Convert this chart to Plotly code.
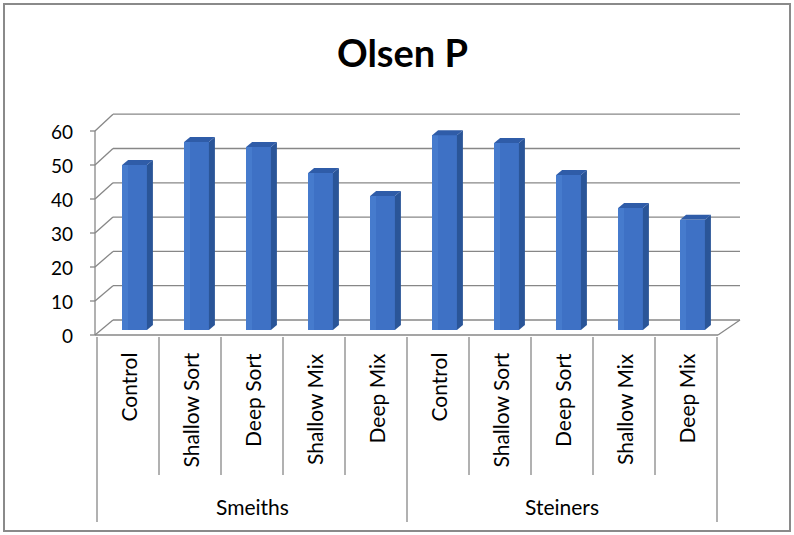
import plotly.graph_objects as go

# Olsen P by treatment for two farms
groups = ["Smeiths", "Steiners"]
treatments = ["Control", "Shallow Sort", "Deep Sort", "Shallow Mix", "Deep Mix"]
smeiths = [48.5, 55.3, 53.8, 46.2, 39.4]
steiners = [57.3, 55.0, 45.6, 35.9, 32.4]
y_ticks = [0, 10, 20, 30, 40, 50, 60]

values = smeiths + steiners
labels = treatments * len(groups)
n = len(values)

W, H = 794, 535
# pixel scale of the axes: 62 px per category, 3.4 px per unit of Olsen P
PXX, PXY = 62.0, 3.4
LEFT_PX, FLOOR_PX = 97.0, 335.0
X0 = -0.5 - LEFT_PX / PXX
X1 = X0 + W / PXX
Y0 = (FLOOR_PX - H) / PXY
Y1 = FLOOR_PX / PXY


def ux(px):
    return X0 + px / PXX


def uy(py):
    return (FLOOR_PX - py) / PXY


# depth of the bars (oblique projection): one third of the floor depth each
DX, DY = 6.0 / PXX, 5.0 / PXY
BAR_W = 0.40
BAR_SHIFT = 0.105

FRONT = "#3e71c5"
SIDE = "#2a5598"
TOP = "#2f5ca8"
HILITE = "#4c82d3"
GRID = "#878787"

fig = go.Figure()

xs = [i + BAR_SHIFT for i in range(n)]

# front faces
fig.add_trace(go.Bar(
    x=xs, y=values, base=[DY] * n, width=BAR_W,
    marker=dict(color=FRONT, line=dict(width=0)),
    hoverinfo="skip", showlegend=False,
))
# lighter left edge of each front face
fig.add_trace(go.Bar(
    x=[x - BAR_W / 2 + 0.05 for x in xs], y=values, base=[DY] * n, width=0.1,
    marker=dict(color=HILITE, line=dict(width=0)), opacity=0.6,
    hoverinfo="skip", showlegend=False,
))

# side and top faces computed from the same values
for x, v in zip(xs, values):
    xr = x + BAR_W / 2
    xl = x - BAR_W / 2
    b = DY
    fig.add_trace(go.Scatter(
        x=[xr, xr + DX, xr + DX, xr, xr],
        y=[b, b + DY, b + DY + v, b + v, b],
        fill="toself", fillcolor=SIDE, mode="lines", line=dict(width=0, color=SIDE),
        hoverinfo="skip", showlegend=False,
    ))
    fig.add_trace(go.Scatter(
        x=[xl, xr, xr + DX, xl + DX, xl],
        y=[b + v, b + v, b + v + DY, b + v + DY, b + v],
        fill="toself", fillcolor=TOP, mode="lines", line=dict(width=0, color=TOP),
        hoverinfo="skip", showlegend=False,
    ))

shapes = []


def seg(x0, y0, x1, y1, color=GRID, width=1.3):
    shapes.append(dict(type="line", xref="x", yref="y", x0=x0, y0=y0, x1=x1, y1=y1,
                       line=dict(color=color, width=width), layer="below"))


# walls: side-wall diagonals and back-wall gridlines
AX_PX = 95
BACK_L, BACK_R = 113, 740
for t in y_ticks:
    fy = FLOOR_PX - t * PXY
    by = 320 - t * 3.43
    seg(ux(AX_PX), uy(fy), ux(BACK_L), uy(by))
    seg(ux(BACK_L), uy(by), ux(BACK_R), uy(by))
    seg(ux(AX_PX - 5), uy(fy), ux(AX_PX), uy(fy))

# value axis and floor
seg(ux(AX_PX), uy(FLOOR_PX), ux(AX_PX), uy(FLOOR_PX - 60 * PXY))
seg(ux(AX_PX), uy(FLOOR_PX), ux(718), uy(FLOOR_PX))
seg(ux(718), uy(FLOOR_PX), ux(BACK_R), uy(320))

# category table dividers
for k in range(n + 1):
    bottom = 522 if k % len(treatments) == 0 else 475
    seg(k - 0.5, uy(337), k - 0.5, uy(bottom))

annotations = []
FONT = "Lato, 'Open Sans', sans-serif"

for t in y_ticks:
    annotations.append(dict(
        x=ux(75), y=t, xref="x", yref="y", text=str(t), showarrow=False,
        xanchor="right", yanchor="middle", font=dict(family=FONT, size=19, color="#000000"),
    ))

for i, lab in enumerate(labels):
    annotations.append(dict(
        x=i, y=uy(351), xref="x", yref="y", text=lab, showarrow=False, textangle=-90,
        xanchor="center", yanchor="top", font=dict(family=FONT, size=21, color="#000000"),
    ))

for g, name in enumerate(groups):
    annotations.append(dict(
        x=g * len(treatments) + (len(treatments) - 1) / 2, y=uy(506), xref="x", yref="y",
        text=name, showarrow=False, xanchor="center", yanchor="middle",
        font=dict(family=FONT, size=21, color="#000000"),
    ))

annotations.append(dict(
    x=402 / W, y=1 - 52 / H, xref="paper", yref="paper", text="<b>Olsen P</b>",
    showarrow=False, xanchor="center", yanchor="middle",
    font=dict(family=FONT, size=38, color="#000000"),
))

# outer chart border
shapes.append(dict(type="rect", xref="paper", yref="paper",
                   x0=4 / W, y0=1 - 531 / H, x1=790 / W, y1=1 - 4 / H,
                   line=dict(color="#8a8a8a", width=2), layer="above"))

fig.update_layout(
    width=W, height=H, margin=dict(l=0, r=0, t=0, b=0),
    paper_bgcolor="white", plot_bgcolor="white",
    barmode="overlay", bargap=0,
    xaxis=dict(range=[X0, X1], visible=False, fixedrange=True),
    yaxis=dict(range=[Y0, Y1], visible=False, fixedrange=True),
    shapes=shapes, annotations=annotations, showlegend=False,
)

fig.write_html("out.html")
